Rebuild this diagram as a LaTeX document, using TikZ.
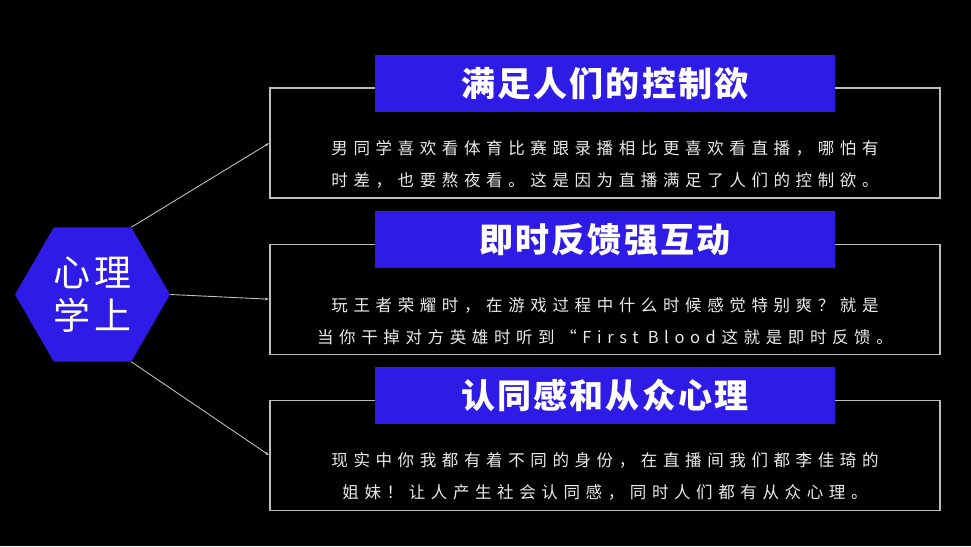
\documentclass[tikz,border=0pt]{standalone}
\usepackage{fontspec}
\setmainfont{Noto Sans CJK SC}
\newfontfamily\bodyfont[LetterSpace=34]{Noto Sans CJK SC}
\newfontfamily\titlefont[LetterSpace=6]{Noto Sans CJK SC}
\newfontfamily\hexfont[LetterSpace=12]{Noto Sans CJK SC}
\usetikzlibrary{arrows.meta,positioning,shapes.geometric}
\definecolor{barblue}{HTML}{2E1CE6}
\definecolor{linegray}{HTML}{BDBDBD}
\definecolor{textgray}{HTML}{EAEAEA}

\begin{document}
\begin{tikzpicture}[
    x=1pt,y=-1pt,
    node distance=45pt,
    box/.style={draw=linegray,line width=1.2pt,minimum width=670pt,minimum height=110pt,inner sep=0pt},
    bar/.style={fill=barblue,minimum width=460pt,minimum height=57pt,inner sep=0pt,
      text=white,font=\titlefont\bfseries\fontsize{34}{36}\selectfont},
    body/.style={text=textgray,align=center,inner sep=0pt,font=\bodyfont\fontsize{16.5}{32}\selectfont},
    link/.style={draw=linegray,line width=0.9pt},
    >={Latex[length=4pt,width=3pt]}]
  \path[fill=black,use as bounding box] (0,0) rectangle (971,546);
  \node[regular polygon,regular polygon sides=6,minimum size=155pt,inner sep=0pt,
    fill=barblue,text=white,align=center,font=\hexfont\fontsize{37}{43}\selectfont]
    (hex) at (92.5,294.5) {心理\\学上};
  \node[box] (box1) at (605,143) {};
  \node[box,below=of box1] (box2) {};
  \node[box,below=of box2] (box3) {};
  \node[bar] (bar1) at ([yshift=4pt]box1.north) {满足人们的控制欲};
  \node[bar] (bar2) at ([yshift=4pt]box2.north) {即时反馈强互动};
  \node[bar] (bar3) at ([yshift=4pt]box3.north) {认同感和从众心理};
  \node[body] (txt1) at ([yshift=-21pt]box1.center)
    {男同学喜欢看体育比赛跟录播相比更喜欢看直播，哪怕有\\时差，也要熬夜看。这是因为直播满足了人们的控制欲。};
  \node[body] (txt2) at ([yshift=-22pt]box2.center)
    {玩王者荣耀时，在游戏过程中什么时候感觉特别爽？就是\\当你干掉对方英雄时听到“First Blood这就是即时反馈。};
  \node[body] (txt3) at ([yshift=-21pt]box3.center)
    {现实中你我都有着不同的身份，在直播间我们都李佳琦的\\姐妹！让人产生社会认同感，同时人们都有从众心理。};
  \draw[link,->] (hex.60) -- (box1.west);
  \draw[link,->] (hex.0) -- (box2.west);
  \draw[link,->] (hex.-60) -- (box3.west);
\end{tikzpicture}
\end{document}
